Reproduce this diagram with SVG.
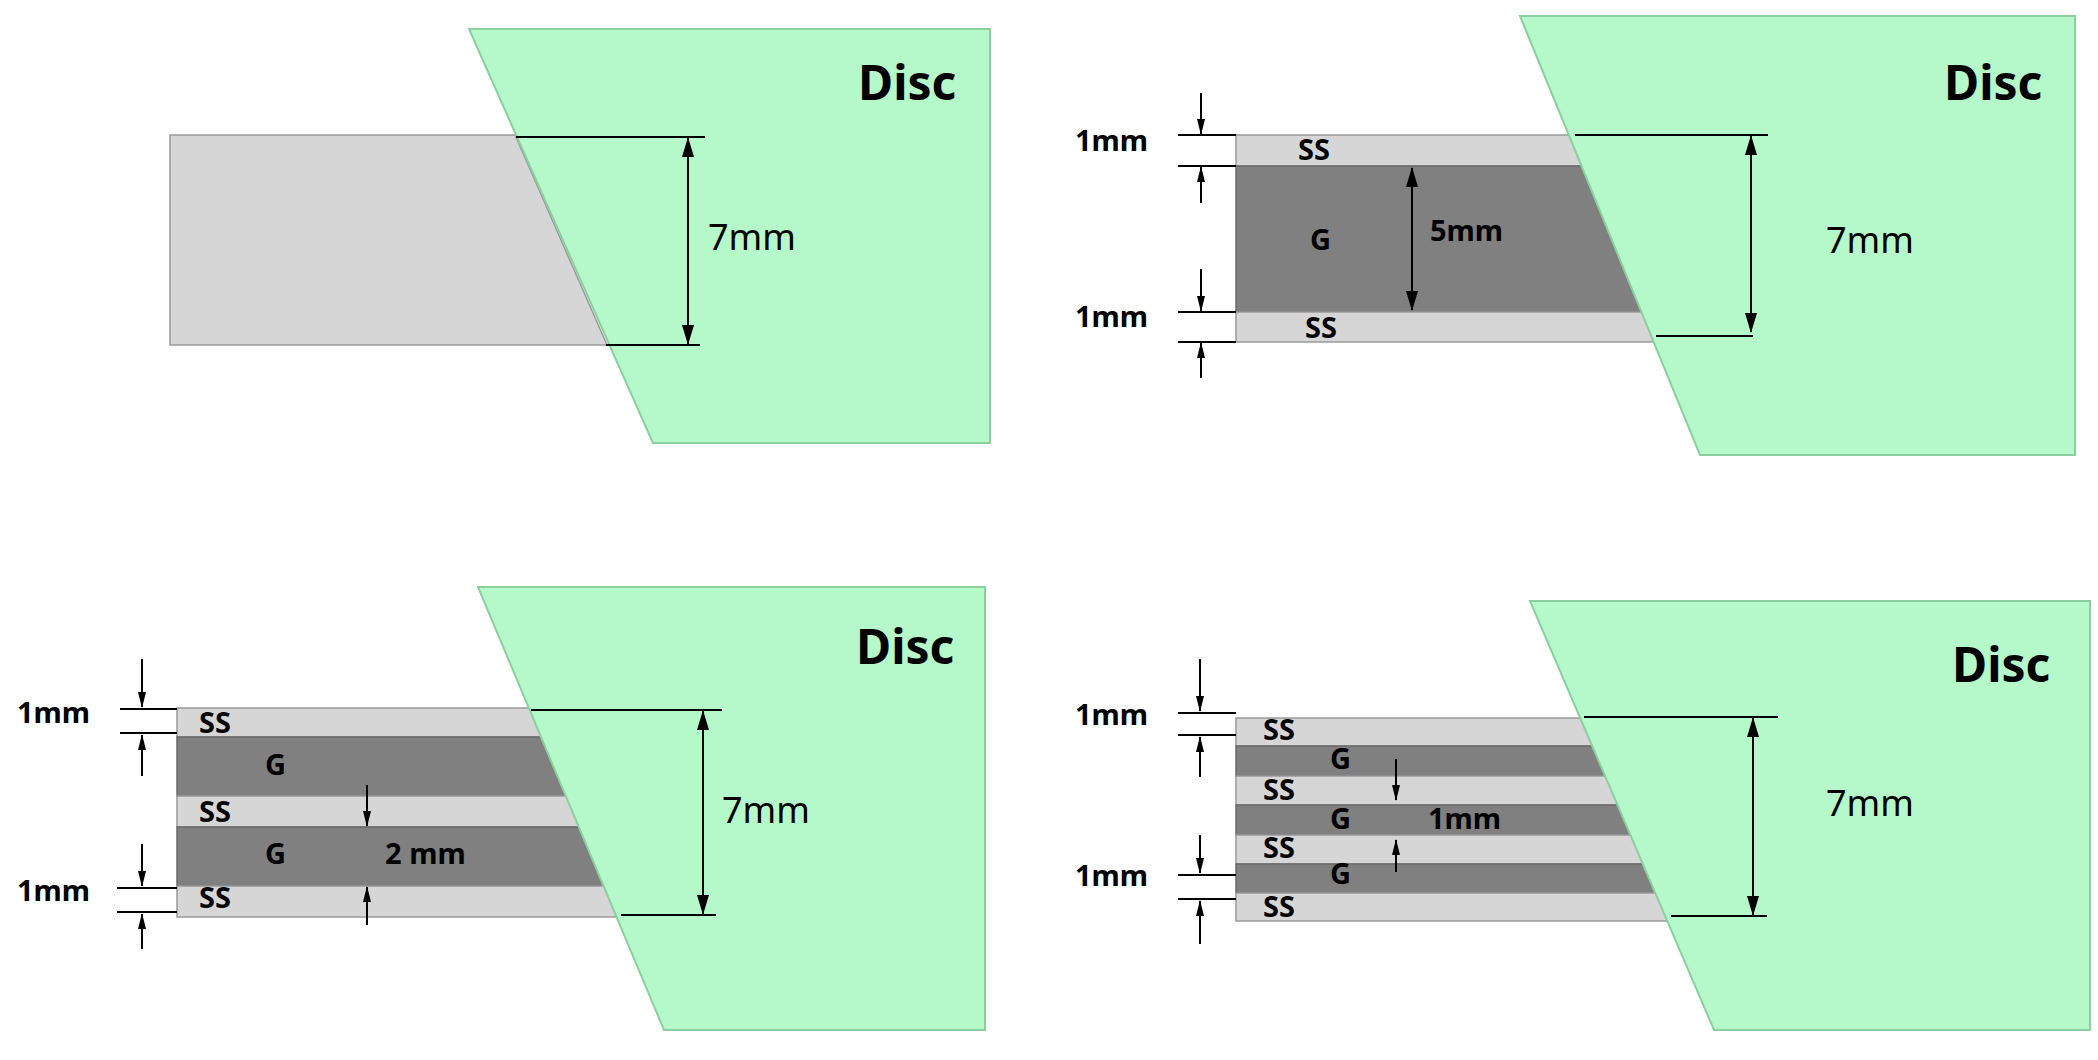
<svg xmlns="http://www.w3.org/2000/svg" width="2098" height="1060" viewBox="0 0 2098 1060">
<style>
.disc{fill:#b5f8c9;stroke:#8ccf9f;stroke-width:2}
.ss{fill:#d6d6d6;stroke:#9a9a9a;stroke-width:1.5}
.g{fill:#808080;stroke:#6a6a6a;stroke-width:1.5}
.dim{stroke:#000;stroke-width:2;fill:none}
.arr{stroke:#000;stroke-width:2;fill:none;marker-end:url(#ah)}
.arr2{stroke:#000;stroke-width:2;fill:none;marker-end:url(#ahb);marker-start:url(#ahbs)}
text{font-family:"Noto Sans","Open Sans",sans-serif;fill:#000}
.big{font-size:36px}
.lbl{font-size:29px;font-weight:bold}
.dt{font-size:48px;font-weight:bold}
</style>
<defs>
<marker id="ah" markerWidth="16" markerHeight="10" refX="15" refY="5" orient="auto" markerUnits="userSpaceOnUse" viewBox="0 0 16 10"><path d="M0,1 L16,5 L0,9 z" fill="#000"/></marker>
<marker id="ahb" markerWidth="20" markerHeight="14" refX="19" refY="7" orient="auto" markerUnits="userSpaceOnUse" viewBox="0 0 20 14"><path d="M0,1 L20,7 L0,13 z" fill="#000"/></marker>
<marker id="ahbs" markerWidth="20" markerHeight="14" refX="1" refY="7" orient="auto" markerUnits="userSpaceOnUse" viewBox="0 0 20 14"><path d="M20,1 L0,7 L20,13 z" fill="#000"/></marker>
</defs>
<rect width="2098" height="1060" fill="#fff"/>

<g id="panel1">
<polygon class="ss" points="170,135 515,135 607,345 170,345"/>
<polygon id="disc1" class="disc" points="469,29 990,29 990,443 653,443"/>
<text class="dt" x="858" y="100">Disc</text>
<text class="big" x="708" y="250">7mm</text>
</g>

<g id="panel2">
<polygon class="ss" points="1236,135 1573,135 1585,166 1236,166"/>
<polygon class="g" points="1236,166 1585,166 1644,312 1236,312"/>
<polygon class="ss" points="1236,312 1644,312 1656,342 1236,342"/>
<polygon id="disc2" class="disc" points="1520,16 2075,16 2075,455 1700,455"/>
<text class="dt" x="1944" y="100">Disc</text>
<text class="big" x="1826" y="253">7mm</text>
<text class="lbl" x="1075" y="151">1mm</text>
<text class="lbl" x="1075" y="327">1mm</text>
<text class="lbl" x="1298" y="160">SS</text>
<text class="lbl" x="1305" y="338">SS</text>
<text class="lbl" x="1310" y="250">G</text>
<text class="lbl" x="1430" y="241">5mm</text>
</g>

<g id="panel3">
<polygon class="ss" points="177,708 532,708 544,737 177,737"/>
<polygon class="g" points="177,737 544,737 569,796 177,796"/>
<polygon class="ss" points="177,796 569,796 582,827 177,827"/>
<polygon class="g" points="177,827 582,827 607,886 177,886"/>
<polygon class="ss" points="177,886 607,886 620,917 177,917"/>
<polygon id="disc3" class="disc" points="478,587 985,587 985,1030 664,1030"/>
<text class="dt" x="856" y="664">Disc</text>
<text class="big" x="722" y="823">7mm</text>
<text class="lbl" x="17" y="723">1mm</text>
<text class="lbl" x="17" y="901">1mm</text>
<text class="lbl" x="199" y="733">SS</text>
<text class="lbl" x="199" y="822">SS</text>
<text class="lbl" x="199" y="908">SS</text>
<text class="lbl" x="265" y="775">G</text>
<text class="lbl" x="265" y="864">G</text>
<text class="lbl" x="385" y="864">2 mm</text>
</g>

<g id="panel4">
<polygon class="ss" points="1236,718 1583,718 1595,746 1236,746"/>
<polygon class="g" points="1236,746 1595,746 1608,776 1236,776"/>
<polygon class="ss" points="1236,776 1608,776 1620,805 1236,805"/>
<polygon class="g" points="1236,805 1620,805 1633,835 1236,835"/>
<polygon class="ss" points="1236,835 1633,835 1645,864 1236,864"/>
<polygon class="g" points="1236,864 1645,864 1658,893 1236,893"/>
<polygon class="ss" points="1236,893 1658,893 1670,921 1236,921"/>
<polygon id="disc4" class="disc" points="1530,601 2090,601 2090,1030 1714,1030"/>
<text class="dt" x="1952" y="682">Disc</text>
<text class="big" x="1826" y="816">7mm</text>
<text class="lbl" x="1075" y="725">1mm</text>
<text class="lbl" x="1075" y="886">1mm</text>
<text class="lbl" x="1263" y="740">SS</text>
<text class="lbl" x="1263" y="800">SS</text>
<text class="lbl" x="1263" y="858">SS</text>
<text class="lbl" x="1263" y="917">SS</text>
<text class="lbl" x="1330" y="769">G</text>
<text class="lbl" x="1330" y="829">G</text>
<text class="lbl" x="1330" y="884">G</text>
<text class="lbl" x="1428" y="829">1mm</text>
</g>

<g id="connectors">
<line class="dim" x1="516" y1="137" x2="705" y2="137"/>
<line class="dim" x1="606" y1="345" x2="700" y2="345"/>
<line class="arr2" x1="688" y1="138" x2="688" y2="344"/>

<line class="dim" x1="1178" y1="135" x2="1236" y2="135"/>
<line class="dim" x1="1178" y1="166" x2="1236" y2="166"/>
<line class="dim" x1="1178" y1="312" x2="1236" y2="312"/>
<line class="dim" x1="1178" y1="342" x2="1236" y2="342"/>
<line class="arr" x1="1201" y1="93" x2="1201" y2="134"/>
<line class="arr" x1="1201" y1="203" x2="1201" y2="167"/>
<line class="arr" x1="1201" y1="269" x2="1201" y2="311"/>
<line class="arr" x1="1201" y1="378" x2="1201" y2="343"/>
<line class="arr2" x1="1412" y1="168" x2="1412" y2="310"/>
<line class="dim" x1="1575" y1="135" x2="1768" y2="135"/>
<line class="dim" x1="1656" y1="336" x2="1753" y2="336"/>
<line class="arr2" x1="1751" y1="136" x2="1751" y2="332"/>

<line class="dim" x1="120" y1="709" x2="177" y2="709"/>
<line class="dim" x1="120" y1="733" x2="177" y2="733"/>
<line class="dim" x1="117" y1="888" x2="177" y2="888"/>
<line class="dim" x1="117" y1="912" x2="177" y2="912"/>
<line class="arr" x1="142" y1="659" x2="142" y2="707"/>
<line class="arr" x1="142" y1="776" x2="142" y2="735"/>
<line class="arr" x1="142" y1="844" x2="142" y2="886"/>
<line class="arr" x1="142" y1="949" x2="142" y2="914"/>
<line class="arr" x1="367" y1="785" x2="367" y2="826"/>
<line class="arr" x1="367" y1="925" x2="367" y2="887"/>
<line class="dim" x1="531" y1="710" x2="722" y2="710"/>
<line class="dim" x1="621" y1="915" x2="716" y2="915"/>
<line class="arr2" x1="703" y1="711" x2="703" y2="914"/>

<line class="dim" x1="1178" y1="713" x2="1236" y2="713"/>
<line class="dim" x1="1178" y1="735" x2="1236" y2="735"/>
<line class="dim" x1="1178" y1="875" x2="1236" y2="875"/>
<line class="dim" x1="1178" y1="899" x2="1236" y2="899"/>
<line class="arr" x1="1200" y1="659" x2="1200" y2="711"/>
<line class="arr" x1="1200" y1="777" x2="1200" y2="737"/>
<line class="arr" x1="1200" y1="835" x2="1200" y2="873"/>
<line class="arr" x1="1200" y1="944" x2="1200" y2="901"/>
<line class="arr" x1="1396" y1="759" x2="1396" y2="800"/>
<line class="arr" x1="1396" y1="872" x2="1396" y2="840"/>
<line class="dim" x1="1584" y1="717" x2="1778" y2="717"/>
<line class="dim" x1="1671" y1="916" x2="1767" y2="916"/>
<line class="arr2" x1="1753" y1="718" x2="1753" y2="915"/>
</g>
</svg>
